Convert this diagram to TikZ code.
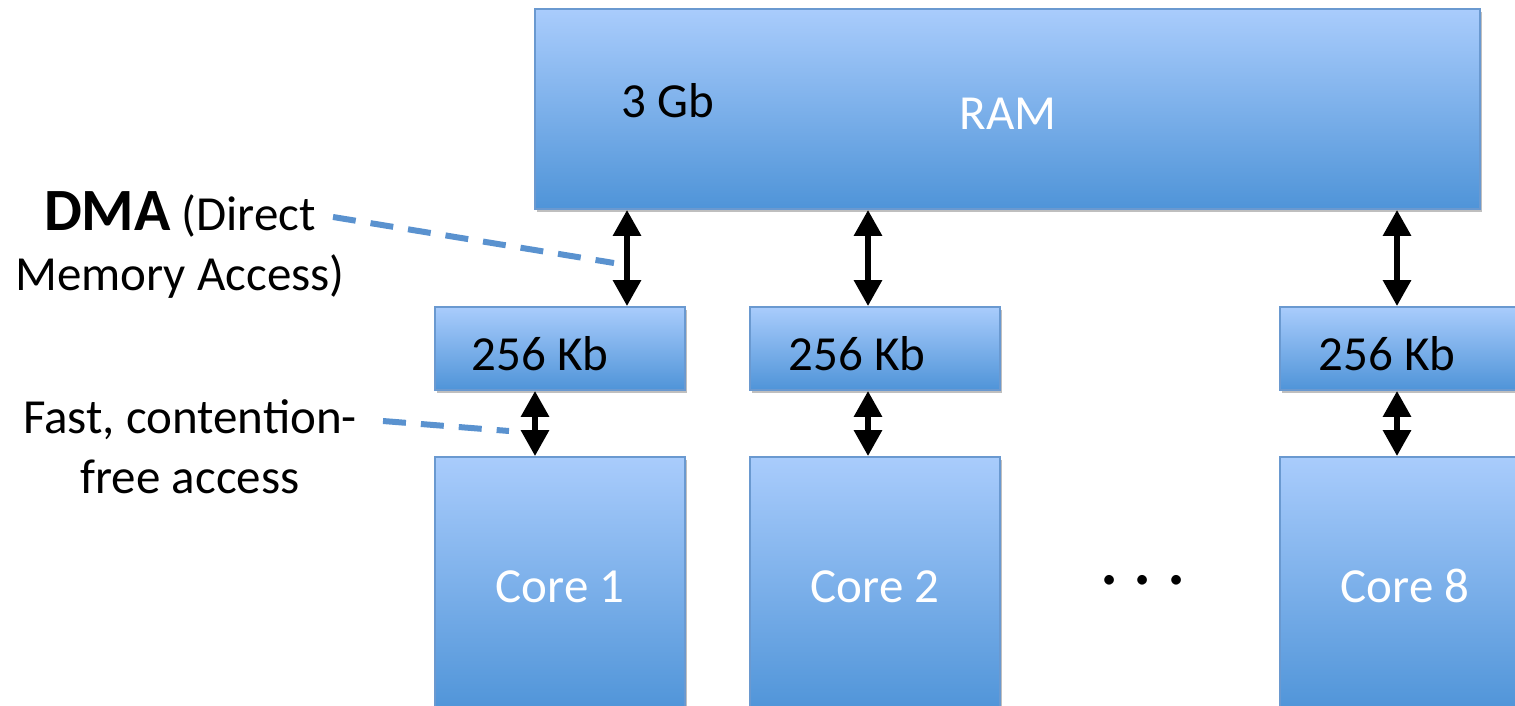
\documentclass[tikz,border=0pt]{standalone}
\usepackage{fontspec}
\setmainfont{Carlito}
\usetikzlibrary{arrows.meta,shadows}
\definecolor{boxtop}{HTML}{A9CCFC}
\definecolor{boxbot}{HTML}{4F94D8}
\definecolor{boxline}{HTML}{6A99D0}
\definecolor{dashblue}{HTML}{5A92CF}
\tikzset{
  memblock/.style={rectangle, draw=boxline, line width=1.8pt, top color=boxtop, bottom color=boxbot,
    inner sep=0pt, drop shadow={shadow xshift=1.5pt, shadow yshift=-3pt, opacity=0.25, fill=black}},
  lbl/.style={inner sep=0pt, anchor=base, font=\fontsize{49}{60}\selectfont},
  whitelbl/.style={lbl, text=white},
  dbl/.style={line width=6pt, {Triangle[width=27pt,length=26pt]}-{Triangle[width=27pt,length=26pt]}},
  leader/.style={dashblue, line width=6pt, dash pattern=on 23pt off 15pt},
}
\begin{document}
\begin{tikzpicture}[x=1pt,y=-1pt]
\useasboundingbox (0,0) rectangle (1515,706);
\clip (0,0) rectangle (1515,706);
% blocks
\node[memblock, minimum width=945pt, minimum height=200pt] (ram) at (1007.5,109) {};
\node[memblock, minimum width=250pt, minimum height=83pt] (c1) at (560,348.5) {};
\node[memblock, minimum width=250pt, minimum height=83pt] (c2) at (875,348.5) {};
\node[memblock, minimum width=250pt, minimum height=83pt] (c3) at (1405,348.5) {};
\node[memblock, minimum width=250pt, minimum height=256pt] (k1) at (560,585) {};
\node[memblock, minimum width=250pt, minimum height=256pt] (k2) at (875,585) {};
\node[memblock, minimum width=250pt, minimum height=256pt] (k3) at (1405,585) {};
% texts
\node[lbl] (gb) at (668,118) {3 Gb};
\node[whitelbl] (ramt) at (1008,130) {RAM};
\node[lbl] (c1t) at (540,370) {256 Kb};
\node[lbl] (c2t) at (857,370) {256 Kb};
\node[lbl] (c3t) at (1387,370) {256 Kb};
\node[whitelbl] (k1t) at (560,602) {Core 1};
\node[whitelbl] (k2t) at (875,602) {Core 2};
\node[whitelbl] (k3t) at (1405,602) {Core 8};
\node[inner sep=0pt, anchor=base, font=\fontsize{80}{80}\selectfont] (dots) at (1143,584) {.\hspace{13pt}.\hspace{13pt}.};
% arrows
\coordinate (a1) at (627,0);
\coordinate (b1) at (535,0);
\coordinate (a2) at (868,0);
\coordinate (a3) at (1397,0);
\draw[dbl] (ram.south -| a1) -- (c1.north -| a1);
\draw[dbl] (ram.south -| a2) -- (c2.north -| a2);
\draw[dbl] (ram.south -| a3) -- (c3.north -| a3);
\draw[dbl] (c1.south -| b1) -- (k1.north -| b1);
\draw[dbl] (c2.south -| a2) -- (k2.north -| a2);
\draw[dbl] (c3.south -| a3) -- (k3.north -| a3);
% side labels
\node[lbl, align=center] (dma) at (180,290) {{\fontsize{60}{60}\selectfont\bfseries DMA} (Direct\\Memory Access)};
\node[lbl, align=center] (fast) at (190,493) {Fast, contention-\\free access};
\coordinate (dmas) at (333,217);
\coordinate (dmae) at (614,263);
\coordinate (fasts) at (383,421);
\coordinate (faste) at (509,431);
\draw[leader] (dmas) -- (dmae);
\draw[leader] (fasts) -- (faste);
\end{tikzpicture}
\end{document}
